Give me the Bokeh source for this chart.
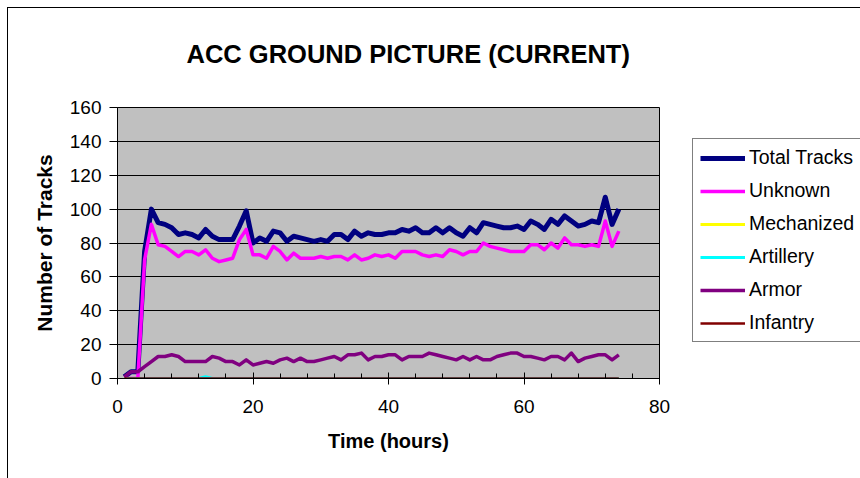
from bokeh.plotting import figure
from bokeh.models import FixedTicker, Legend, LegendItem, ColumnDataSource, Title
from bokeh.embed import file_html
from bokeh.resources import INLINE

hours = list(range(1, 75))

total_tracks = [1, 4, 4, 75, 100, 92, 91, 89, 85, 86, 85, 83, 88, 84, 82, 82, 82, 90, 99, 80,
                83, 81, 87, 86, 81, 84, 83, 82, 81, 82, 81, 85, 85, 82, 87, 84, 86, 85, 85, 86,
                86, 88, 87, 89, 86, 86, 89, 86, 89, 86, 84, 89, 86, 92, 91, 90, 89, 89, 90, 88,
                93, 91, 88, 94, 91, 96, 93, 90, 91, 93, 92, 107, 91, 100]

unknown = [0, 0, 0, 70, 91, 79, 78, 75, 72, 75, 75, 73, 76, 71, 69, 70, 71, 82, 88, 73,
           73, 71, 78, 75, 70, 74, 71, 71, 71, 72, 71, 72, 72, 70, 73, 70, 71, 73, 72, 73,
           71, 75, 75, 75, 73, 72, 73, 72, 76, 75, 73, 75, 75, 80, 78, 77, 76, 75, 75, 75,
           79, 79, 76, 80, 77, 83, 79, 79, 78, 79, 78, 93, 78, 87]

mechanized = [0] * 74

artillery = [0] * 12 + [1] + [0] * 61

armor = [1, 4, 4, 7, 10, 13, 13, 14, 13, 10, 10, 10, 10, 13, 12, 10, 10, 8, 11, 8,
         9, 10, 9, 11, 12, 10, 12, 10, 10, 11, 12, 13, 11, 14, 14, 15, 11, 13, 13, 14,
         14, 11, 13, 13, 13, 15, 14, 13, 12, 11, 13, 11, 13, 11, 11, 13, 14, 15, 15, 13,
         13, 12, 11, 13, 13, 11, 15, 10, 12, 13, 14, 14, 11, 14]

infantry = [0] * 74

series_names = ["Total Tracks", "Unknown", "Mechanized", "Artillery", "Armor", "Infantry"]
series_values = [total_tracks, unknown, mechanized, artillery, armor, infantry]
series_colors = ["#000080", "#FF00FF", "#FFFF00", "#00FFFF", "#800080", "#800000"]
series_widths = [5, 3.5, 3, 3, 3.5, 2.5]

x_ticks = [0, 20, 40, 60, 80]
x_minor = list(range(0, 81, 4))
y_ticks = list(range(0, 161, 20))

FONT = "Liberation Sans"

p = figure(frame_width=542, frame_height=271, x_range=(0, 80), y_range=(0, 160),
           output_backend="svg", toolbar_location=None,
           min_border_left=117, min_border_right=201,
           min_border_top=107, min_border_bottom=100)

# outer chart frame (left and top edges visible), painted behind the transparent canvas
p.styles = {
    "background": "linear-gradient(#000, #000) 7px 7px / 1px 100% no-repeat, "
                  "linear-gradient(#000, #000) 7px 7px / 100% 1px no-repeat, #ffffff"
}

p.background_fill_color = "#C0C0C0"
p.border_fill_color = None
p.outline_line_color = "black"
p.outline_line_width = 1

# axes
xa = p.xaxis[0]
xa.ticker = FixedTicker(ticks=x_ticks, minor_ticks=x_minor)
xa.major_tick_in = 6
xa.major_tick_out = 6
xa.minor_tick_in = 5
xa.minor_tick_out = 0
xa.axis_line_color = "black"
xa.major_tick_line_color = "black"
xa.minor_tick_line_color = "black"
xa.major_label_text_font = FONT
xa.major_label_text_font_size = "19px"
xa.major_label_text_color = "black"
xa.major_label_standoff = 15
xa.axis_label = "Time (hours)"
xa.axis_label_text_font = FONT
xa.axis_label_text_font_style = "bold"
xa.axis_label_text_font_size = "20px"
xa.axis_label_text_color = "black"
xa.axis_label_standoff = 14

ya = p.yaxis[0]
ya.ticker = FixedTicker(ticks=y_ticks)
ya.major_tick_in = 0
ya.major_tick_out = 8
ya.minor_tick_in = 0
ya.minor_tick_out = 0
ya.axis_line_color = "black"
ya.major_tick_line_color = "black"
ya.major_label_text_font = FONT
ya.major_label_text_font_size = "19px"
ya.major_label_text_color = "black"
ya.major_label_standoff = 8
ya.axis_label = "Number of Tracks"
ya.axis_label_text_font = FONT
ya.axis_label_text_font_style = "bold"
ya.axis_label_text_font_size = "21px"
ya.axis_label_text_color = "black"
ya.axis_label_standoff = 11

p.xgrid.grid_line_color = None
p.ygrid.ticker = FixedTicker(ticks=y_ticks)
p.ygrid.grid_line_color = "black"
p.ygrid.grid_line_width = 1

items = []
for name, vals, col, w in zip(series_names, series_values, series_colors, series_widths):
    src = ColumnDataSource(dict(x=hours, y=vals))
    r = p.line("x", "y", source=src, line_color=col, line_width=w, line_join="round")
    items.append(LegendItem(label=name, renderers=[r]))

legend = Legend(items=items, location=(33, 36), margin=0,
                border_line_color="black", border_line_width=1,
                background_fill_color="white", background_fill_alpha=1,
                label_text_font=FONT, label_text_font_size="19.5px",
                label_text_color="black",
                glyph_width=45, glyph_height=20, label_height=21, label_width=114,
                label_standoff=4, spacing=10, padding=7)
p.add_layout(legend, "right")

title = Title(text="ACC GROUND PICTURE (CURRENT)", align="left", offset=69,
              vertical_align="top", standoff=76,
              text_font=FONT, text_font_style="bold",
              text_font_size="25.5px", text_color="black")
p.add_layout(title, "above")

open("out.html", "w").write(file_html(p, INLINE))
